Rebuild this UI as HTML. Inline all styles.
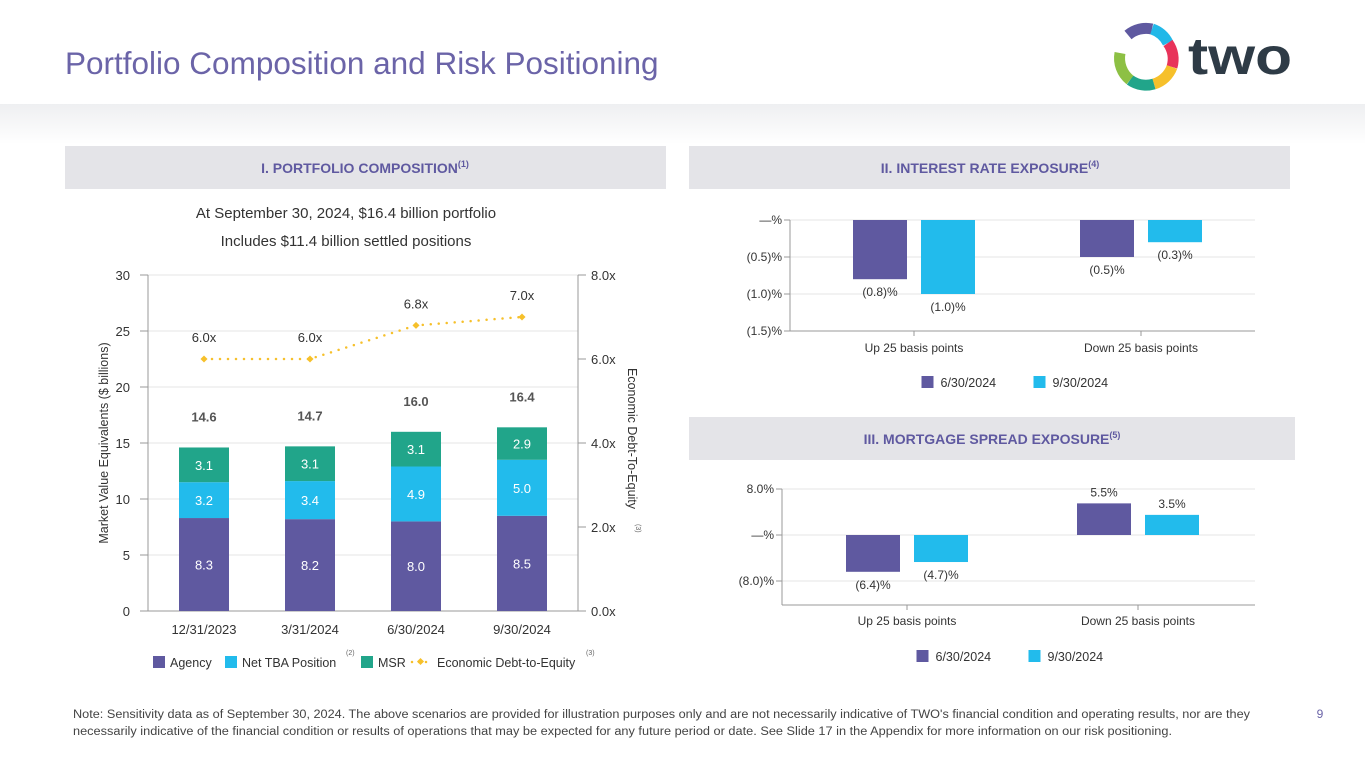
<!DOCTYPE html>
<html><head><meta charset="utf-8"><style>
html,body{margin:0;padding:0;background:#fff;}
svg{display:block;font-family:"Liberation Sans",sans-serif;}
</style></head><body>
<svg id="s" width="1365" height="768" viewBox="0 0 1365 768" xmlns="http://www.w3.org/2000/svg">
<defs>
<linearGradient id="band" x1="0" y1="0" x2="0" y2="1"><stop offset="0" stop-color="#eeeff1"/><stop offset="1" stop-color="#ffffff"/></linearGradient>
</defs>
<text x="65" y="74" font-size="31.5" fill="#6b64a8">Portfolio Composition and Risk Positioning</text>
<g transform="translate(1146,57)">
<path d="M-18,-22 A28,28 0 0 1 6,-28" stroke="#5f59a0" stroke-width="11" fill="none"/>
<path d="M6,-28 A28,28 0 0 1 22,-14" stroke="#22b8e8" stroke-width="11" fill="none"/>
<path d="M22,-14 A28,28 0 0 1 26,10" stroke="#e8335a" stroke-width="11" fill="none"/>
<path d="M26,10 A28,28 0 0 1 8,27" stroke="#f6c02b" stroke-width="11" fill="none"/>
<path d="M8,27 A28,28 0 0 1 -16,23" stroke="#21a58a" stroke-width="11" fill="none"/>
<path d="M-16,23 A28,28 0 0 1 -26,-4" stroke="#8dc044" stroke-width="11" fill="none"/>
<text x="42" y="17" font-size="52" font-weight="bold" fill="#2e3b46" textLength="104" lengthAdjust="spacingAndGlyphs">two</text>
</g>
<rect x="0" y="104" width="1365" height="40" fill="url(#band)"/>
<rect x="65" y="146" width="601" height="43" fill="#e4e4e8"/>
<text x="365" y="173" font-size="14" font-weight="bold" fill="#5f59a0" text-anchor="middle">I.   PORTFOLIO COMPOSITION<tspan font-size="9" dy="-6">(1)</tspan></text>
<rect x="689" y="146" width="601" height="43" fill="#e4e4e8"/>
<text x="990" y="173" font-size="14" font-weight="bold" fill="#5f59a0" text-anchor="middle">II.    INTEREST RATE EXPOSURE<tspan font-size="9" dy="-6">(4)</tspan></text>
<rect x="689" y="417" width="606" height="43" fill="#e4e4e8"/>
<text x="992" y="444" font-size="14" font-weight="bold" fill="#5f59a0" text-anchor="middle">III.    MORTGAGE SPREAD EXPOSURE<tspan font-size="9" dy="-6">(5)</tspan></text>
<text x="346" y="218" font-size="15" fill="#333" text-anchor="middle">At September 30, 2024, $16.4 billion portfolio</text>
<text x="346" y="246" font-size="15" fill="#333" text-anchor="middle">Includes $11.4 billion settled positions</text>
<g id="c1"></g><g id="c2"></g><g id="c3"></g>
<text x="73" y="718" font-size="11.5" fill="#444" textLength="1177" lengthAdjust="spacingAndGlyphs">Note: Sensitivity data as of September 30, 2024. The above scenarios are provided for illustration purposes only and are not necessarily indicative of TWO's financial condition and operating results, nor are they</text>
<text x="73" y="735" font-size="11.5" fill="#444" textLength="1099" lengthAdjust="spacingAndGlyphs">necessarily indicative of the financial condition or results of operations that may be expected for any future period or date. See Slide 17 in the Appendix for more information on our risk positioning.</text>
<text x="1320" y="718" font-size="12" fill="#6b64a8" text-anchor="middle">9</text>
</svg>
<script>
const NS="http://www.w3.org/2000/svg";
const quarters=["12/31/2023","3/31/2024","6/30/2024","9/30/2024"];
const agency=[8.3,8.2,8.0,8.5];
const netTba=[3.2,3.4,4.9,5.0];
const msr=[3.1,3.1,3.1,2.9];
const totals=[14.6,14.7,16.0,16.4];
const leverage=[6.0,6.0,6.8,7.0];
const leftTicks=[0,5,10,15,20,25,30];
const rightTicks=[0,2,4,6,8];
const scenarios=["Up 25 basis points","Down 25 basis points"];
const rateJun=[-0.8,-0.5];
const rateSep=[-1.0,-0.3];
const rateTicks=[0,-0.5,-1.0,-1.5];
const spreadJun=[-6.4,5.5];
const spreadSep=[-4.7,3.5];
const spreadTicks=[8,0,-8];
const PURPLE="#5f59a0",CYAN="#22bbec",GREEN="#21a58a",GOLD="#f6c02b";
function el(p,t,a,txt){const e=document.createElementNS(NS,t);for(const k in a)e.setAttribute(k,a[k]);if(txt!=null)e.textContent=txt;p.appendChild(e);return e;}
function pct(v){if(v===0)return "—%";return v<0?"("+Math.abs(v).toFixed(1)+")%":v.toFixed(1)+"%";}

// Chart 1
const c1=document.getElementById('c1');
const yL=v=>611-v*(336/30), yR=v=>611-v*(336/8), xC=i=>204+i*106;
leftTicks.forEach(t=>{
 const g=el(c1,'line',{x1:148,x2:578,y1:yL(t),y2:yL(t),stroke:t===0?'#999':'#e6e6e6','stroke-width':1});
 
 const tk=el(c1,'line',{x1:140,x2:148,y1:yL(t),y2:yL(t),stroke:'#999'});
 
 const l=el(c1,'text',{x:130,y:yL(t)+5,'font-size':13,fill:'#333','text-anchor':'end'},String(t));
 
});
el(c1,'line',{x1:148,x2:148,y1:275,y2:611,stroke:'#999'});
el(c1,'line',{x1:578,x2:578,y1:275,y2:611,stroke:'#999'});
rightTicks.forEach(t=>{
 el(c1,'line',{x1:578,x2:586,y1:yR(t),y2:yR(t),stroke:'#999'});
 const l=el(c1,'text',{x:591,y:yR(t)+5,'font-size':13,fill:'#333'},t.toFixed(1)+"x");
 
});
const yt=el(c1,'text',{transform:'translate(108,443) rotate(-90)','font-size':12.5,fill:'#333','text-anchor':'middle'},'Market Value Equivalents ($ billions)');

const yt2=el(c1,'text',{transform:'translate(628,368) rotate(90)','font-size':12.5,fill:'#333'},'Economic Debt-To-Equity');

el(c1,'text',{transform:'translate(636,524) rotate(90)','font-size':7,fill:'#666'},'(3)');
quarters.forEach((q,i)=>{
 const x=xC(i)-25;let base=0;
 [[agency,PURPLE,'bar-agency'],[netTba,CYAN,'bar-net-tba'],[msr,GREEN,'bar-msr']].forEach(([arr,col,nm])=>{
  const v=arr[i];
  const r=el(c1,'rect',{x:x,y:yL(base+v),width:50,height:yL(base)-yL(base+v),fill:col});
  
  el(c1,'text',{x:xC(i),y:(yL(base)+yL(base+v))/2+5,'font-size':13,fill:'#fff','text-anchor':'middle'},v.toFixed(1));
  base+=v;
 });
 const tl=el(c1,'text',{x:xC(i),y:yL(totals[i])-26,'font-size':13,'font-weight':'bold',fill:'#555','text-anchor':'middle'},totals[i].toFixed(1));
 
 const xl=el(c1,'text',{x:xC(i),y:634,'font-size':13,fill:'#333','text-anchor':'middle'},q);
 
 const ll=el(c1,'text',{x:xC(i),y:yR(leverage[i])-17,'font-size':13,fill:'#333','text-anchor':'middle'},leverage[i].toFixed(1)+"x");
 
});
const pts=leverage.map((v,i)=>xC(i)+","+yR(v)).join(" ");
const pl=el(c1,'polyline',{points:pts,fill:'none',stroke:GOLD,'stroke-width':2.5,'stroke-dasharray':'0 8','stroke-linecap':'round'});

leverage.forEach((v,i)=>{const d=el(c1,'rect',{x:xC(i)-2.5,y:yR(v)-2.5,width:5,height:5,fill:GOLD,transform:`rotate(45 ${xC(i)} ${yR(v)})`});
 });
// legend 1
[[153,PURPLE,'Agency'],[225,CYAN,'Net TBA Position'],[361,GREEN,'MSR']].forEach(([x,c,t])=>{
 const r=el(c1,'rect',{x:x,y:656,width:12,height:12,fill:c});
 const tx=el(c1,'text',{x:x+17,y:667,'font-size':12.5,fill:'#333'},t);
});
el(c1,'text',{x:346,y:655,'font-size':7,fill:'#666'},'(2)');
el(c1,'line',{x1:412,x2:432,y1:662,y2:662,stroke:GOLD,'stroke-width':2.5,'stroke-dasharray':'0 7','stroke-linecap':'round'});
el(c1,'rect',{x:418,y:659,width:5,height:5,fill:GOLD,transform:'rotate(45 420.5 661.5)'});
const le=el(c1,'text',{x:437,y:667,'font-size':12.5,fill:'#333'},'Economic Debt-to-Equity');
el(c1,'text',{x:586,y:655,'font-size':7,fill:'#666'},'(3)');

function barChart(g,jun,sep,ticks,y0,scale,axisX,bottom,labY,legY,offs,fmt,nm){
 const yv=v=>y0-v*scale;
 ticks.forEach(t=>{
  const gl=el(g,'line',{x1:axisX,x2:1255,y1:yv(t),y2:yv(t),stroke:'#e6e6e6'});
  el(g,'line',{x1:axisX-6,x2:axisX,y1:yv(t),y2:yv(t),stroke:'#999'});
  const l=el(g,'text',{x:axisX-8,y:yv(t)+4,'font-size':12,fill:'#333','text-anchor':'end'},fmt(t));
  
 });
 el(g,'line',{x1:axisX,x2:axisX,y1:yv(ticks[0]),y2:bottom,stroke:'#999'});
 el(g,'line',{x1:axisX,x2:1255,y1:bottom,y2:bottom,stroke:'#999'});
 const cx=[offs[0],offs[1]];
 scenarios.forEach((s,i)=>{
  el(g,'line',{x1:cx[i],x2:cx[i],y1:bottom,y2:bottom+5,stroke:'#999'});
  const xl=el(g,'text',{x:cx[i],y:labY,'font-size':12,fill:'#333','text-anchor':'middle'},s);
  
  [[jun,PURPLE,-61,nm+'-bar-jun'],[sep,CYAN,7,nm+'-bar-sep']].forEach(([arr,col,dx,n])=>{
   const v=arr[i],x=cx[i]+dx,top=Math.min(yv(0),yv(v)),h=Math.abs(yv(v)-yv(0));
   const r=el(g,'rect',{x:x,y:top,width:54,height:h,fill:col});
   const ly=v<0?yv(v)+17:yv(v)-7;
   const vl=el(g,'text',{x:x+27,y:ly,'font-size':12,fill:'#333','text-anchor':'middle'},pct(v));
   
  });
 });
 const lx=(offs[0]+offs[1])/2;
 [[lx-106,PURPLE,'6/30/2024'],[lx+6,CYAN,'9/30/2024']].forEach(([x,c,t])=>{
  const r=el(g,'rect',{x:x,y:legY-11,width:12,height:12,fill:c});
  const tx=el(g,'text',{x:x+19,y:legY,'font-size':12.5,fill:'#333'},t);
 });
}
barChart(document.getElementById('c2'),rateJun,rateSep,rateTicks,220,74,790,331,352,387,[914,1141],pct,'rate');
barChart(document.getElementById('c3'),spreadJun,spreadSep,spreadTicks,535,46/8,782,605,625,661,[907,1138],pct,'spread');
</script>
</body></html>
